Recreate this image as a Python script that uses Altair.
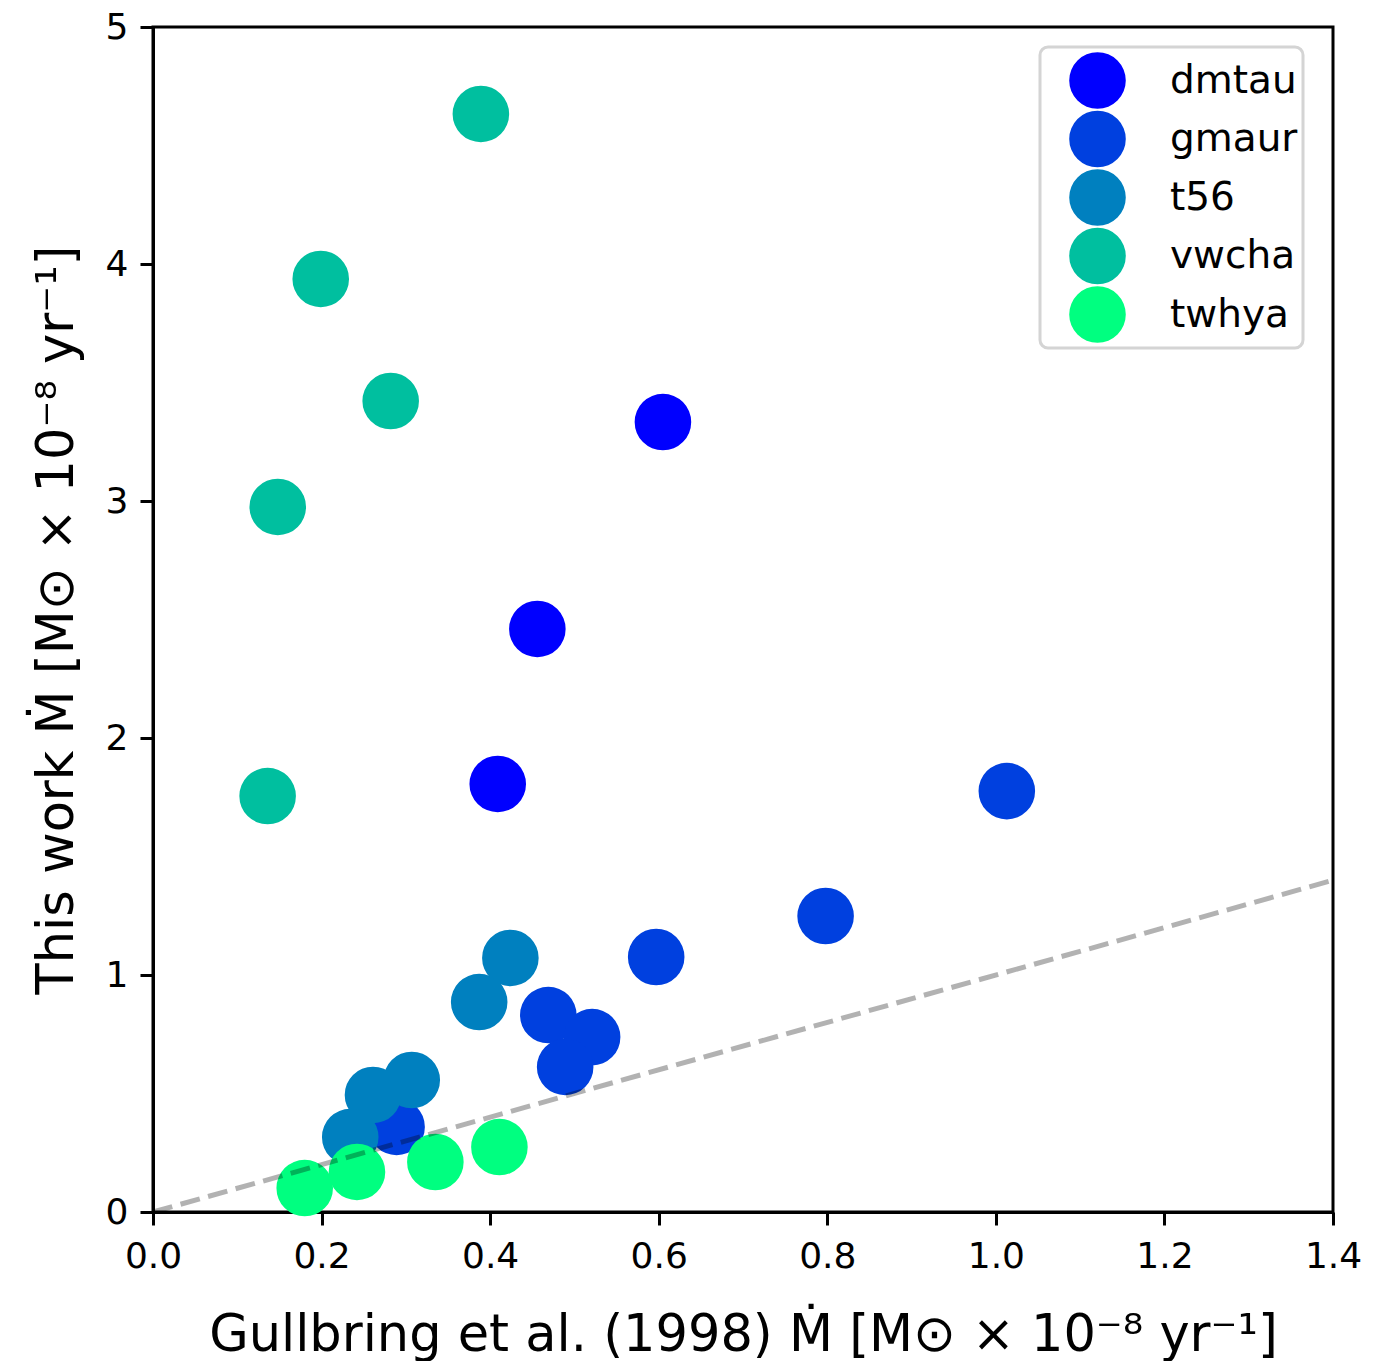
import altair as alt
import pandas as pd

# ---- data ----
stars = ["dmtau", "gmaur", "t56", "vwcha", "twhya"]
colors = ["#0000ff", "#0040df", "#0080bf", "#00bf9f", "#00ff80"]

dmtau_x = [0.605, 0.456, 0.409]
dmtau_y = [3.333, 2.460, 1.806]

gmaur_x = [1.013, 0.798, 0.597, 0.469, 0.521, 0.489, 0.289]
gmaur_y = [1.776, 1.249, 1.076, 0.831, 0.738, 0.612, 0.359]

t56_x = [0.424, 0.387, 0.307, 0.261, 0.234]
t56_y = [1.072, 0.886, 0.557, 0.494, 0.316]

vwcha_x = [0.389, 0.199, 0.282, 0.148, 0.136]
vwcha_y = [4.633, 3.937, 3.422, 2.975, 1.755]

twhya_x = [0.180, 0.242, 0.335, 0.411]
twhya_y = [0.101, 0.169, 0.211, 0.274]

line_x = [0.0, 1.4]
line_y = [0.0, 1.4]

series = {
    "dmtau": (dmtau_x, dmtau_y),
    "gmaur": (gmaur_x, gmaur_y),
    "t56": (t56_x, t56_y),
    "vwcha": (vwcha_x, vwcha_y),
    "twhya": (twhya_x, twhya_y),
}
rows = []
for name in stars:
    xs, ys = series[name]
    for a, b in zip(xs, ys):
        rows.append({"star": name, "x": a, "y": b})
df = pd.DataFrame(rows)
line_df = pd.DataFrame({"x": line_x, "y": line_y})

FONT = "DejaVu Sans"

x_title = "Gullbring et al. (1998) Ṁ [M⊙ × 10⁻⁸ yr⁻¹]"
y_title = "This work Ṁ [M⊙ × 10⁻⁸ yr⁻¹]"

xscale = alt.Scale(domain=[0, 1.4], nice=False, zero=False)
yscale = alt.Scale(domain=[0, 5], nice=False, zero=False)

xaxis = alt.Axis(
    title=x_title, values=[0, 0.2, 0.4, 0.6, 0.8, 1.0, 1.2, 1.4], format=".1f",
    grid=False, tickSize=13, tickWidth=3, tickColor="black",
    domainColor="black", domainWidth=3,
    labelFont=FONT, labelFontSize=36, labelColor="black", labelPadding=14,
    labelFlush=False,
    titleFont=FONT, titleFontSize=51, titleFontWeight="normal", titleColor="black",
    titleBaseline="alphabetic", titleY=138,
)
yaxis = alt.Axis(
    title=y_title, values=[0, 1, 2, 3, 4, 5], format="d",
    grid=False, tickSize=13, tickWidth=3, tickColor="black",
    domainColor="black", domainWidth=3,
    labelFont=FONT, labelFontSize=36, labelColor="black", labelPadding=12,
    labelFlush=False,
    titleFont=FONT, titleFontSize=51, titleFontWeight="normal", titleColor="black",
    titleBaseline="alphabetic", titleX=-81,
)

points = alt.Chart(df).mark_circle(size=3200, opacity=1).encode(
    x=alt.X("x:Q", scale=xscale, axis=xaxis),
    y=alt.Y("y:Q", scale=yscale, axis=yaxis),
    color=alt.Color(
        "star:N",
        scale=alt.Scale(domain=stars, range=colors),
        sort=stars,
        legend=alt.Legend(
            title=None, orient="none", legendX=887, legendY=20,
            padding=5, symbolOffset=24, rowPadding=1.5,
            labelFont=FONT, labelFontSize=39, labelColor="black", labelOffset=44,
            symbolSize=3200, symbolType="circle", symbolOpacity=1,
            symbolStrokeWidth=0,
            strokeColor="#d4d4d4", fillColor="white", cornerRadius=8,
        ),
    ),
    order=alt.Order("idx:Q"),
).transform_window(idx="row_number()")

line = alt.Chart(line_df).mark_line(
    color="black", opacity=0.3, strokeWidth=5, strokeDash=[20, 8.6]
).encode(
    x=alt.X("x:Q", scale=xscale),
    y=alt.Y("y:Q", scale=yscale),
)

chart = alt.layer(points, line).properties(
    width=1180, height=1185,
    autosize=alt.AutoSizeParams(type="none"),
    padding={"left": 153, "top": 27, "right": 64, "bottom": 149},
    background="white",
).configure_view(
    stroke="black", strokeWidth=3
).configure_legend(strokeWidth=3)

chart.save("out.html", embed_options={"renderer": "svg", "actions": False})
